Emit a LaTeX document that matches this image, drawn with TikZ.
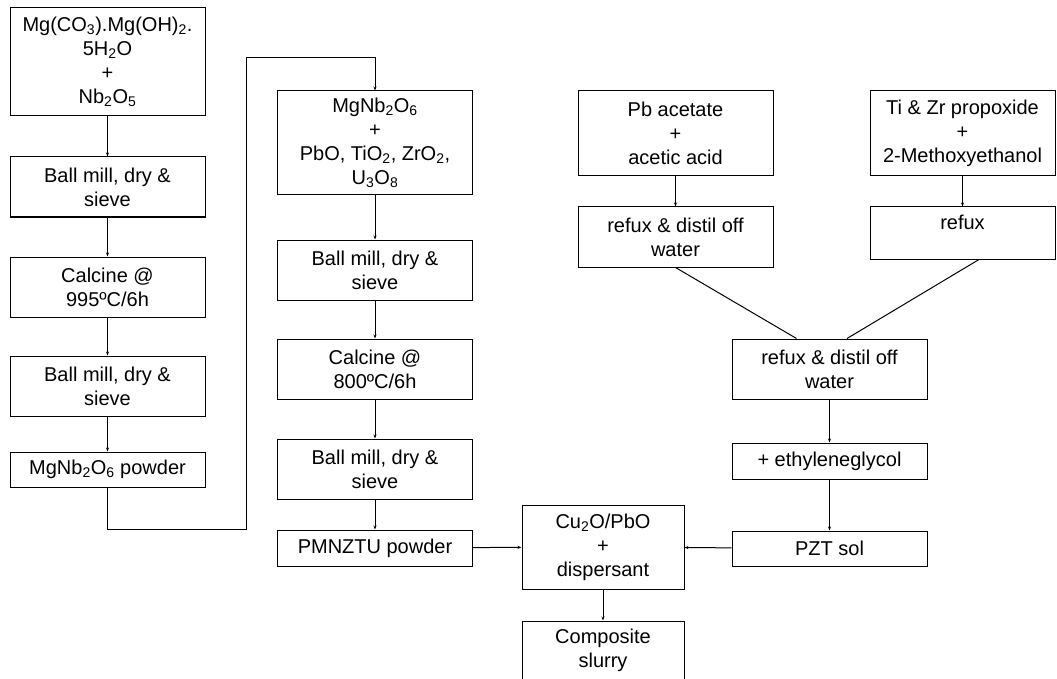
\documentclass[tikz,border=0pt]{standalone}
\usepackage{fontspec}
\setmainfont{Liberation Sans}
\usepackage{tikz}
\usetikzlibrary{arrows.meta, positioning}

\begin{document}
\begin{tikzpicture}[x=1pt, y=-1pt, line width=1pt, font=\fontsize{20}{24}\selectfont,
    box/.style={rectangle, draw, inner sep=2pt, align=center, minimum width=195pt},
    flow/.style={-{Stealth[length=4pt, width=3pt]}}]
        \useasboundingbox (0,0) rectangle (1057,679);

        % solid state route
        \node[box, minimum height=108pt] (A1) at (107.5,62) {Mg(CO\textsubscript{3}).Mg(OH)\textsubscript{2}.\\5H\textsubscript{2}O\\+\\Nb\textsubscript{2}O\textsubscript{5}};
        \node[box, minimum height=60pt] (A2) at (107.5,187) {Ball mill, dry \&\\sieve};
        \node[box, minimum height=60pt] (A3) at (107.5,287) {Calcine @\\995ºC/6h};
        \node[box, minimum height=60pt] (A4) at (107.5,386) {Ball mill, dry \&\\sieve};
        \node[box, minimum height=35pt] (A5) at (107.5,469.5) {MgNb\textsubscript{2}O\textsubscript{6} powder};

        \node[box, minimum height=104pt] (B1) at (375,143) {MgNb\textsubscript{2}O\textsubscript{6}\\+\\PbO, TiO\textsubscript{2}, ZrO\textsubscript{2},\\U\textsubscript{3}O\textsubscript{8}};
        \node[box, minimum height=60pt] (B2) at (375,270) {Ball mill, dry \&\\sieve};
        \node[box, minimum height=60pt] (B3) at (375,369) {Calcine @\\800ºC/6h};
        \node[box, minimum height=60pt] (B4) at (375,469) {Ball mill, dry \&\\sieve};
        \node[box, minimum height=36pt] (B5) at (375,548) {PMNZTU powder};

        % sol-gel route
        \node[box, minimum height=85pt] (C1) at (675.5,133.5) {Pb acetate\\+\\acetic acid};
        \node[box, minimum height=60pt] (C2) at (675.5,237) {refux \& distil off\\water};
        \node[box, minimum height=85pt, minimum width=185pt] (D1) at (962.5,133.5) {Ti \& Zr propoxide\\+\\2-Methoxyethanol};
        \node[box, minimum height=52pt, minimum width=185pt, text depth=22pt] (D2) at (962.5,233) {refux};
        \node[box, minimum height=60pt] (E1) at (829.5,369) {refux \& distil off\\water};
        \node[box, minimum height=36pt] (E2) at (829.5,461) {+ ethyleneglycol};
        \node[box, minimum height=35pt] (E3) at (829.5,548.5) {PZT sol};

        % mixing
        \node[box, minimum height=84pt, minimum width=162pt] (F1) at (603,547) {Cu\textsubscript{2}O/PbO\\+\\dispersant};
        \node[box, minimum height=58pt, minimum width=162pt] (F2) at (603,650) {Composite\\slurry};

        \coordinate (loop) at (246,58);

        \draw[flow] (A1) -- (A2);
        \draw[flow] (A2) -- (A3);
        \draw[flow] (A3) -- (A4);
        \draw[flow] (A4) -- (A5);
        \draw[flow] (A5.south) -- ++(0,42) -| (loop) -| (B1.north);
        \draw[flow] (B1) -- (B2);
        \draw[flow] (B2) -- (B3);
        \draw[flow] (B3) -- (B4);
        \draw[flow] (B4) -- (B5);
        \draw[flow] (C1) -- (C2);
        \draw[flow] (D1) -- (D2);
        \draw (C2.south) -- ([xshift=-33pt]E1.north);
        \draw ([xshift=16.5pt]D2.south) -- ([xshift=17.5pt]E1.north);
        \draw[flow] (E1) -- (E2);
        \draw[flow] (E2) -- (E3);
        \draw[flow] (B5) -- (F1);
        \draw[flow] (E3) -- (F1);
        \draw[flow] (F1) -- (F2);

    \end{tikzpicture}
\end{document}
